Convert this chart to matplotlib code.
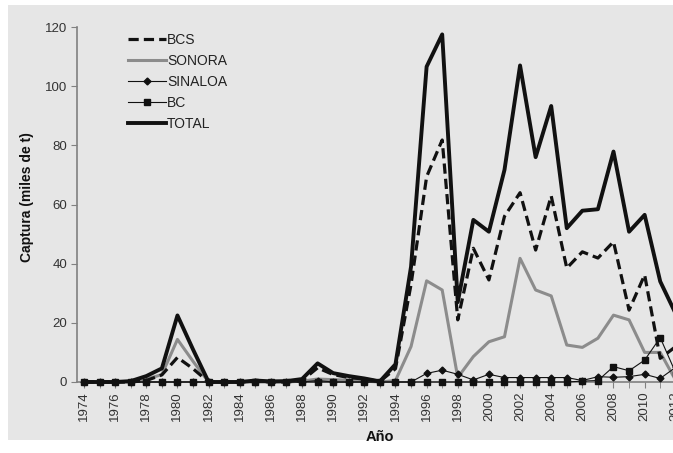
import matplotlib
matplotlib.use("Agg")
import matplotlib.pyplot as plt
from matplotlib.patches import Rectangle
from matplotlib.ticker import MultipleLocator

years = list(range(1974, 2013))

bcs = [0, 0, 0, 0, 0.5, 2.4, 8.3, 4.5, 0, 0, 0, 0.3, 0, 0, 0.5, 4.8, 2.5, 1.5, 1, 0.2,
       4.5, 33, 69.4, 81.8, 21, 45.2, 34.5, 56, 64, 44.6, 62.9, 38.5, 44, 41.9, 47.4,
       24.3, 36.2, 8, 12]
sonora = [0, 0, 0, 0, 1, 2.5, 14.4, 7, 0, 0, 0, 0, 0, 0, 0.3, 1, 0.8, 0.6, 0.3, 0,
          0.5, 12, 34.2, 31.1, 1.5, 8.6, 13.6, 15.3, 41.8, 31.1, 29.1, 12.5, 11.7, 14.8,
          22.6, 21, 10, 10, 0.5]
sinaloa = [0, 0, 0, 0, 0, 0, 0, 0, 0, 0, 0, 0, 0, 0, 0, 0.5, 0, 0, 0, 0,
           0, 0, 2.9, 4, 2.6, 0.7, 2.6, 1.5, 1.5, 1.5, 1.5, 1.5, 0.5, 1.8,
           1.6, 1.8, 2.6, 1.2, 5]
bc = [0, 0, 0, 0, 0, 0, 0, 0, 0, 0, 0, 0, 0, 0, 0, 0, 0, 0, 0, 0,
      0, 0, 0, 0, 0, 0, 0, 0, 0, 0, 0, 0, 0.3, 0.5,
      5.2, 3.8, 7.4, 15, 3]
total = [0, 0, 0, 0.3, 2, 4.6, 22.5, 11, 0, 0, 0, 0.5, 0.2, 0.3, 1, 6.3, 3, 2, 1.2, 0.2,
         6, 39, 106.6, 117.5, 27, 54.8, 50.8, 71.7, 107, 76, 93.3, 52, 57.9, 58.4, 77.9,
         50.8, 56.5, 34, 23]

label_years = list(range(1974, 2013, 2))

plt.rcParams['font.family'] = ['Liberation Sans', 'DejaVu Sans']

W, H = 673, 453
fig = plt.figure(figsize=(W / 100, H / 100), dpi=100, facecolor='white')
bg = '#e6e6e6'
fig.patches.append(Rectangle((8 / W, 13 / H), 1 - 8 / W, (440 - 5) / H,
                             transform=fig.transFigure, facecolor=bg,
                             edgecolor='none', zorder=-10))

left = 77 / W
right = 682.8 / W
bottom = (H - 382) / H
top = (H - 27) / H
ax = fig.add_axes([left, bottom, right - left, top - bottom])
ax.set_facecolor(bg)
ax.patch.set_alpha(0)

kw = dict(clip_on=False)
ax.plot(years, bcs, color='#111111', lw=2.3, linestyle=(0, (3.2, 1.6)), label='BCS', zorder=4, **kw)
ax.plot(years, sonora, color='#8c8c8c', lw=2.2, label='SONORA', zorder=3, **kw)
ax.plot(years, sinaloa, color='#111111', lw=0.8, marker='D', markersize=3.5,
        label='SINALOA', zorder=5, **kw)
ax.plot(years, bc, color='#111111', lw=0.8, marker='s', markersize=4.5,
        label='BC', zorder=5, **kw)
ax.plot(years, total, color='#111111', lw=2.8, label='TOTAL', zorder=3.5, **kw)

ax.set_xlim(1973.55, 2012.45)
ax.set_ylim(0, 120)
ax.set_yticks(range(0, 121, 20))
ax.set_xticks(label_years)
ax.set_xticklabels([str(y) for y in label_years], rotation=90)
ax.xaxis.set_minor_locator(MultipleLocator(1))

for s in ['top', 'right']:
    ax.spines[s].set_visible(False)
for s in ['left', 'bottom']:
    ax.spines[s].set_color('#808080')
    ax.spines[s].set_linewidth(1.2)

ax.tick_params(axis='both', which='both', direction='out', color='#808080',
               labelcolor='#333333', labelsize=9.5)
ax.tick_params(axis='x', which='major', length=4, pad=3)
ax.tick_params(axis='x', which='minor', length=4)
ax.tick_params(axis='y', length=4, pad=3)

ax.set_ylabel('Captura (miles de t)', fontsize=10, fontweight='bold', color='#111111')
ax.yaxis.set_label_coords((34 - 77) / (682.8 - 77), (382 - 197) / (382 - 27))
ax.set_xlabel('Año', fontsize=10.5, fontweight='bold', color='#111111')
ax.xaxis.set_label_coords((380 - 77) / (682.8 - 77), -(430 - 382) / (382 - 27))

leg = ax.legend(loc='upper left', bbox_to_anchor=(128 / W, (H - 33) / H),
                bbox_transform=fig.transFigure, frameon=False, fontsize=10,
                handlelength=2.7, handletextpad=0.1, labelspacing=0.5,
                borderpad=0, borderaxespad=0)
for t in leg.get_texts():
    t.set_color('#222222')

fig.savefig('out.png', dpi=100, facecolor='white')
